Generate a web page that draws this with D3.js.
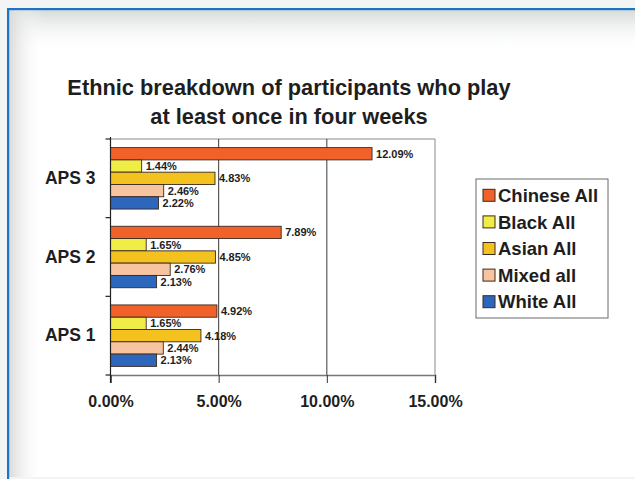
<!DOCTYPE html>
<html>
<head>
<meta charset="utf-8">
<script src="https://cdn.jsdelivr.net/npm/d3@7/dist/d3.min.js"></script>
<style>
  html, body { margin: 0; padding: 0; background: #f3f4f4; }
  svg { display: block; }
  text { font-family: "Liberation Sans", Arial, sans-serif; font-weight: bold; fill: #1e1e1e; }
</style>
</head>
<body>
<svg id="chart" width="635" height="479"></svg>
<script>
// Participation data (share of each ethnic group playing at least once in four weeks)
const categories = ["APS 3", "APS 2", "APS 1"];
const seriesNames = ["Chinese All", "Black All", "Asian All", "Mixed all", "White All"];
const chineseAll = [12.09, 7.89, 4.92];
const blackAll   = [1.44, 1.65, 1.65];
const asianAll   = [4.83, 4.85, 4.18];
const mixedAll   = [2.46, 2.76, 2.44];
const whiteAll   = [2.22, 2.13, 2.13];
const xTicks = [0, 5, 10, 15];
const seriesColors = ["#f1622a", "#f0ee46", "#f3c21f", "#f8c4a0", "#2c66bd"];

const seriesValues = [chineseAll, blackAll, asianAll, mixedAll, whiteAll];
const rows = categories.map((c, i) => ({
  category: c,
  values: seriesNames.map((s, j) => ({ series: s, value: seriesValues[j][i], color: seriesColors[j] }))
}));

const svg = d3.select("#chart");
const W = 635, H = 479;

// Framed panel background
const defs = svg.append("defs");
const gTop = defs.append("linearGradient").attr("id", "shadeTop").attr("x1", 0).attr("y1", 0).attr("x2", 0).attr("y2", 1);
gTop.append("stop").attr("offset", "0%").attr("stop-color", "#d6dad9");
gTop.append("stop").attr("offset", "100%").attr("stop-color", "#ffffff").attr("stop-opacity", 0);
const gLeft = defs.append("linearGradient").attr("id", "shadeLeft").attr("x1", 0).attr("y1", 0).attr("x2", 1).attr("y2", 0);
gLeft.append("stop").attr("offset", "0%").attr("stop-color", "#dadada");
gLeft.append("stop").attr("offset", "100%").attr("stop-color", "#ffffff").attr("stop-opacity", 0);

svg.append("rect").attr("x", 0).attr("y", 0).attr("width", W).attr("height", H).attr("fill", "#f3f4f4");
svg.append("rect").attr("x", 9).attr("y", 10).attr("width", W - 9).attr("height", H - 12).attr("fill", "#ffffff");
svg.append("rect").attr("x", 9).attr("y", 10).attr("width", W - 9).attr("height", 42).attr("fill", "url(#shadeTop)");
svg.append("rect").attr("x", 9).attr("y", 10).attr("width", 34).attr("height", H - 12).attr("fill", "url(#shadeLeft)");
svg.append("rect").attr("x", 0).attr("y", H - 2).attr("width", W).attr("height", 2).attr("fill", "#f3f4f4");
svg.append("rect").attr("x", 7).attr("y", 8).attr("width", W - 7).attr("height", 2.2).attr("fill", "#1b74c6");
svg.append("rect").attr("x", 7).attr("y", 8).attr("width", 2.2).attr("height", H - 8).attr("fill", "#1b74c6");

// Title
const title = svg.append("text").attr("text-anchor", "middle").attr("font-size", 21.8);
title.append("tspan").attr("x", 289).attr("y", 95).text("Ethnic breakdown of participants who play");
title.append("tspan").attr("x", 289).attr("y", 124).text("at least once in four weeks");

// Plot area
const plot = { left: 110.5, right: 435, top: 139, bottom: 375 };
const x = d3.scaleLinear().domain([0, 15]).range([plot.left, plot.right]);
const y = d3.scaleBand().domain(categories).range([plot.top, plot.bottom]).padding(0);
const yInner = d3.scaleBand().domain(seriesNames).range([0, y.bandwidth()]).paddingInner(0).paddingOuter(0.7);

// Plot frame and vertical gridlines
svg.append("line").attr("x1", plot.left).attr("x2", plot.right).attr("y1", plot.top).attr("y2", plot.top)
  .attr("stroke", "#8a8a8a").attr("stroke-width", 1);
svg.append("g").selectAll("line").data(xTicks.filter(d => d > 0)).join("line")
  .attr("x1", d => x(d)).attr("x2", d => x(d)).attr("y1", plot.top).attr("y2", plot.bottom)
  .attr("stroke", d => d === 15 ? "#8a8a8a" : "#3a3a3a").attr("stroke-width", 1);

// Bars
const groups = svg.append("g").selectAll("g").data(rows).join("g")
  .attr("transform", d => `translate(0,${y(d.category)})`);
groups.selectAll("rect").data(d => d.values).join("rect")
  .attr("x", x(0))
  .attr("y", d => yInner(d.series))
  .attr("width", d => x(d.value) - x(0))
  .attr("height", yInner.bandwidth())
  .attr("fill", d => d.color)
  .attr("stroke", "#3a2a20").attr("stroke-width", 0.9);
groups.selectAll("text").data(d => d.values).join("text")
  .attr("x", d => x(d.value) + 4)
  .attr("y", d => yInner(d.series) + yInner.bandwidth() / 2)
  .attr("dy", "0.36em")
  .attr("font-size", 11)
  .text(d => d.value.toFixed(2) + "%");

// Axes
const xAxis = d3.axisBottom(x).tickValues(xTicks).tickSize(8).tickPadding(9)
  .tickFormat(d => d.toFixed(2) + "%");
const gx = svg.append("g").attr("transform", `translate(0,${plot.bottom})`).call(xAxis);
gx.select(".domain").attr("stroke", "#777").attr("stroke-width", 1.6);
gx.selectAll(".tick line").attr("stroke", "#333");
gx.selectAll(".tick text").attr("font-size", 16).attr("fill", "#1e1e1e").attr("dy", "0.95em")
  .style("font-family", "'Liberation Sans', Arial, sans-serif").style("font-weight", "bold");

const yAxis = d3.axisLeft(y).tickSize(0).tickPadding(15);
const gy = svg.append("g").attr("transform", `translate(${plot.left},0)`).call(yAxis);
gy.select(".domain").remove();
gy.selectAll(".tick text").attr("font-size", 17.5).attr("fill", "#1e1e1e")
  .style("font-family", "'Liberation Sans', Arial, sans-serif").style("font-weight", "bold");
svg.append("line").attr("x1", plot.left).attr("x2", plot.left).attr("y1", plot.top - 2).attr("y2", plot.bottom + 8)
  .attr("stroke", "#222").attr("stroke-width", 1.2);
// category boundary ticks
svg.append("g").selectAll("line").data([plot.top, ...categories.map(c => y(c) + y.bandwidth())]).join("line")
  .attr("x1", plot.left - 5).attr("x2", plot.left).attr("y1", d => d).attr("y2", d => d)
  .attr("stroke", "#222").attr("stroke-width", 1.2);

// Legend
const legend = svg.append("g").attr("transform", "translate(476,179)");
legend.append("rect").attr("x", 0).attr("y", 0).attr("width", 132).attr("height", 139)
  .attr("fill", "#ffffff").attr("stroke", "#6a6a6a").attr("stroke-width", 1);
const ly = d3.scaleBand().domain(seriesNames).range([3, 136]).padding(0);
const items = legend.selectAll("g").data(seriesNames).join("g")
  .attr("transform", d => `translate(0,${ly(d) + ly.bandwidth() / 2})`);
items.append("rect").attr("x", 7).attr("y", -6).attr("width", 12).attr("height", 12)
  .attr("fill", (d, i) => seriesColors[i]).attr("stroke", "#3a2a20").attr("stroke-width", 1);
items.append("text").attr("x", 22).attr("dy", "0.36em").attr("font-size", 18.5).text(d => d);
</script>
</body>
</html>
